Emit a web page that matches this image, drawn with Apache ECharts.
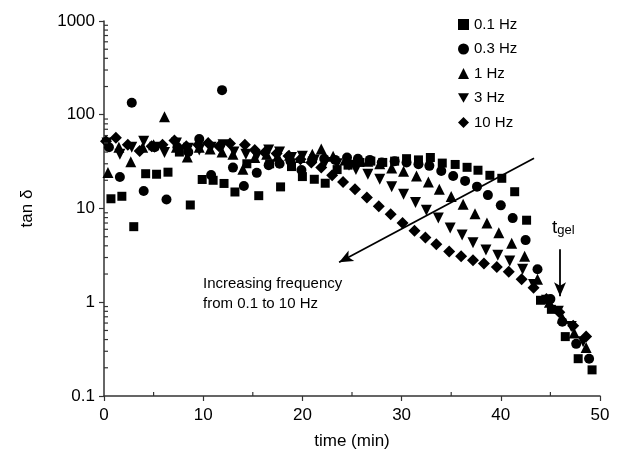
<!DOCTYPE html>
<html>
<head>
<meta charset="utf-8">
<script src="https://cdn.jsdelivr.net/npm/echarts@6/dist/echarts.min.js"></script>
<style>html,body{margin:0;padding:0;background:#fff}#c{width:623px;height:461px}</style>
</head>
<body>
<div id="c"></div>
<script>
// ---- data ----
const seriesNames = ['0.1 Hz', '0.3 Hz', '1 Hz', '3 Hz', '10 Hz'];
const xTicks = [0, 10, 20, 30, 40, 50];
const yTicks = [0.1, 1, 10, 100, 1000];
const xMinorTicks = [5, 15, 25, 35, 45];
const yMinorTicks = [0.2,0.3,0.4,0.5,0.6,0.7,0.8,0.9,2,3,4,5,6,7,8,9,20,30,40,50,60,70,80,90,200,300,400,500,600,700,800,900];

const t01 = [0.7,1.8,3.0,4.2,5.3,6.45,7.6,8.7,9.9,11.0,12.1,13.2,14.4,15.6,16.7,17.8,18.9,20.0,21.2,22.3,23.5,24.6,25.8,26.9,28.1,29.3,30.5,31.7,32.9,34.1,35.4,36.6,37.7,38.9,40.1,41.4,42.6,44.0,45.1,46.5,47.8,49.2];
const v01 = [12.7,13.5,6.4,23.5,23.2,24.4,40,10.9,20.4,20,18.5,15,30,13.7,30,17,28,21.9,20.5,18.6,26,29,31,32,31,32,34,33,35,30.5,29.5,27.5,25.6,22.6,21,15.1,7.5,1.05,0.84,0.43,0.25,0.19];

const t03 = [0.5,1.6,2.8,4.0,5.1,6.3,7.4,8.5,9.6,10.8,11.9,13.0,14.1,15.4,16.6,17.7,18.8,19.9,21.0,22.2,23.3,24.5,25.6,26.8,28.0,29.3,30.5,31.7,32.8,34.0,35.2,36.4,37.6,38.7,40.0,41.2,42.5,43.7,45.0,46.2,47.6,48.9];
const v03 = [45,21.7,134,15.4,45,12.5,45,40,55,22.7,183,27.3,17.4,24,29,30,32,25.8,33,34,33,35,34,33,31,32,31,29.6,28.5,25.1,22.2,19.7,17.1,13.9,10.8,7.9,4.6,2.25,1.08,0.62,0.36,0.25];

const t1 = [0.4,1.5,2.7,3.9,5.0,6.1,7.3,8.4,9.6,10.7,11.9,13.0,14.0,15.2,16.4,17.5,18.7,19.8,21.0,21.9,23.1,24.3,25.4,26.6,27.8,29.0,30.2,31.5,32.7,33.8,35.0,36.2,37.4,38.6,39.8,41.1,42.4,43.7,44.9,46.2,47.4,48.6];
const v1 = [24.2,45,31.5,45,48,95,45,35.5,45,43,40,38,26.3,34.9,38,36,37,35,38,43,36,33,33,32,30,27,25,22.2,19.2,16,13.4,11.1,8.8,7.0,5.5,4.26,3.1,1.76,1.0,0.68,0.47,0.33];

const t3 = [0.3,1.6,2.8,4.0,5.1,6.1,7.3,8.5,9.6,10.8,12.0,13.1,14.3,15.4,16.6,17.7,18.9,20.0,21.2,22.3,23.5,24.7,25.4,26.6,27.8,29.0,30.2,31.4,32.5,33.7,34.9,36.1,37.2,38.5,39.7,40.9,42.2,43.3,44.6,45.8,47.1,48.3];
const v3 = [50,38,45,52,45,39.5,50,44,42,45,48,40,38,36,42,40,35,36,33,31,30,29,26,23.2,20.5,17.1,14.2,11.6,9.6,7.9,6.2,5.2,4.3,3.6,3.17,2.76,2.25,1.55,1.05,0.8,0.55,0.38];

const t10 = [0.2,1.2,2.4,3.6,4.8,5.9,7.1,8.3,9.5,10.5,11.6,12.7,14.2,15.2,16.2,17.4,18.6,19.8,20.9,21.9,23.0,24.1,25.3,26.5,27.7,28.9,30.1,31.3,32.4,33.5,34.8,36.0,37.2,38.3,39.6,40.8,42.1,43.3,44.6,45.9,47.3,48.6];
const v10 = [52,57,48,41,46,48,53,46,48,50,46,49.5,48,42,39.5,38.7,36.3,33.5,31,27.3,22.6,19.2,16,13.1,10.6,8.7,7.0,5.8,4.9,4.16,3.47,3.1,2.8,2.59,2.38,2.12,1.76,1.43,1.08,0.78,0.56,0.43];

// annotation arrows in data space: [time, tan delta]
const freqArrow = [[23.7, 2.67], [43.35, 34.4]];
const gelArrow = [[45.97, 3.68], [45.97, 1.16]];

// ---- chart ----
const FONT = 'Liberation Sans, Arial, Helvetica, sans-serif';
const pair = (ts, vs) => ts.map((t, i) => [t, vs[i]]);
const symbols = ['rect', 'circle', 'triangle', 'path://M0,0 L10,0 L5,8.7 Z', 'diamond'];
const sizes = [9, 10, 11, 11, 12];
const dataSets = [pair(t01, v01), pair(t03, v03), pair(t1, v1), pair(t3, v3), pair(t10, v10)];

const chart = echarts.init(document.getElementById('c'), null, {renderer: 'canvas'});

const series = seriesNames.map((name, i) => ({
  name: name,
  type: 'scatter',
  data: dataSets[i],
  symbol: symbols[i],
  symbolSize: sizes[i],
  itemStyle: {color: '#000', opacity: 1},
  z: 2 + i
}));

series.push({
  name: 'arrows',
  type: 'line',
  data: [],
  silent: true,
  markLine: {
    silent: true,
    animation: false,
    label: {show: false},
    lineStyle: {color: '#000', width: 1.8, type: 'solid'},
    data: [
      [{coord: freqArrow[0], symbol: 'arrow', symbolSize: [9, 14]}, {coord: freqArrow[1], symbol: 'none'}],
      [{coord: gelArrow[0], symbol: 'none'}, {coord: gelArrow[1], symbol: 'arrow', symbolSize: [9, 14]}]
    ]
  }
});

// minor ticks: [x, y, kind] kind 0 = y-axis tick, 1 = x-axis tick
const minorData = yMinorTicks.map(v => [0, v, 0]).concat(xMinorTicks.map(x => [x, 0.1, 1]));
series.push({
  name: 'minorTicks',
  type: 'custom',
  silent: true,
  clip: false,
  data: minorData,
  renderItem: function (params, api) {
    const p = api.coord([api.value(0), api.value(1)]);
    const kind = api.value(2);
    if (kind === 0) {
      return {type: 'line', shape: {x1: p[0], y1: p[1], x2: p[0] + 4, y2: p[1]}, style: {stroke: '#333', lineWidth: 1.2}};
    }
    return {type: 'line', shape: {x1: p[0], y1: p[1], x2: p[0], y2: p[1] - 4}, style: {stroke: '#333', lineWidth: 1.2}};
  },
  z: 10
});

chart.setOption({
  animation: false,
  backgroundColor: '#fff',
  textStyle: {fontFamily: FONT},
  grid: {left: 104, top: 21, width: 496, height: 375, containLabel: false},
  legend: {
    data: seriesNames,
    orient: 'vertical',
    left: 453,
    top: 12,
    itemGap: 9.5,
    itemWidth: 11,
    itemHeight: 11,
    textStyle: {fontSize: 15, color: '#000', fontFamily: FONT},
    selectedMode: false
  },
  xAxis: {
    type: 'value',
    min: 0, max: 50, interval: 10,
    name: 'time (min)',
    nameLocation: 'middle',
    nameGap: 37,
    nameTextStyle: {fontSize: 17, color: '#000', fontFamily: FONT},
    axisLine: {lineStyle: {color: '#333', width: 1.5}},
    axisTick: {show: true, length: 5, lineStyle: {color: '#333', width: 1.2}},
    axisLabel: {fontSize: 17, color: '#000', margin: 11, fontFamily: FONT},
    splitLine: {show: false}
  },
  yAxis: {
    type: 'log',
    logBase: 10,
    min: 0.1, max: 1000,
    name: 'tan δ',
    nameLocation: 'middle',
    nameGap: 68,
    nameTextStyle: {fontSize: 17, color: '#000', fontFamily: FONT},
    axisLine: {show: true, lineStyle: {color: '#333', width: 1.5}},
    axisTick: {show: true, length: 5, lineStyle: {color: '#333', width: 1.2}},
    axisLabel: {fontSize: 17, color: '#000', margin: 9, fontFamily: FONT,
      formatter: function (v) { const r = yTicks.find(t => Math.abs(t - v) / t < 1e-6); return r !== undefined ? String(r) : ''; }},
    splitLine: {show: false}
  },
  graphic: [
    {type: 'text', left: 203, top: 274, style: {text: 'Increasing frequency\nfrom 0.1 to 10 Hz', font: '15px ' + FONT, fill: '#000', lineHeight: 20}},
    {type: 'text', left: 552, top: 218, style: {
      text: '{t|t}{s|gel}', fill: '#000',
      rich: {t: {fontSize: 19, fontFamily: FONT, verticalAlign: 'bottom'}, s: {fontSize: 13, fontFamily: FONT, padding: [9, 0, 0, 0]}}
    }}
  ],
  series: series
});
</script>
</body>
</html>
